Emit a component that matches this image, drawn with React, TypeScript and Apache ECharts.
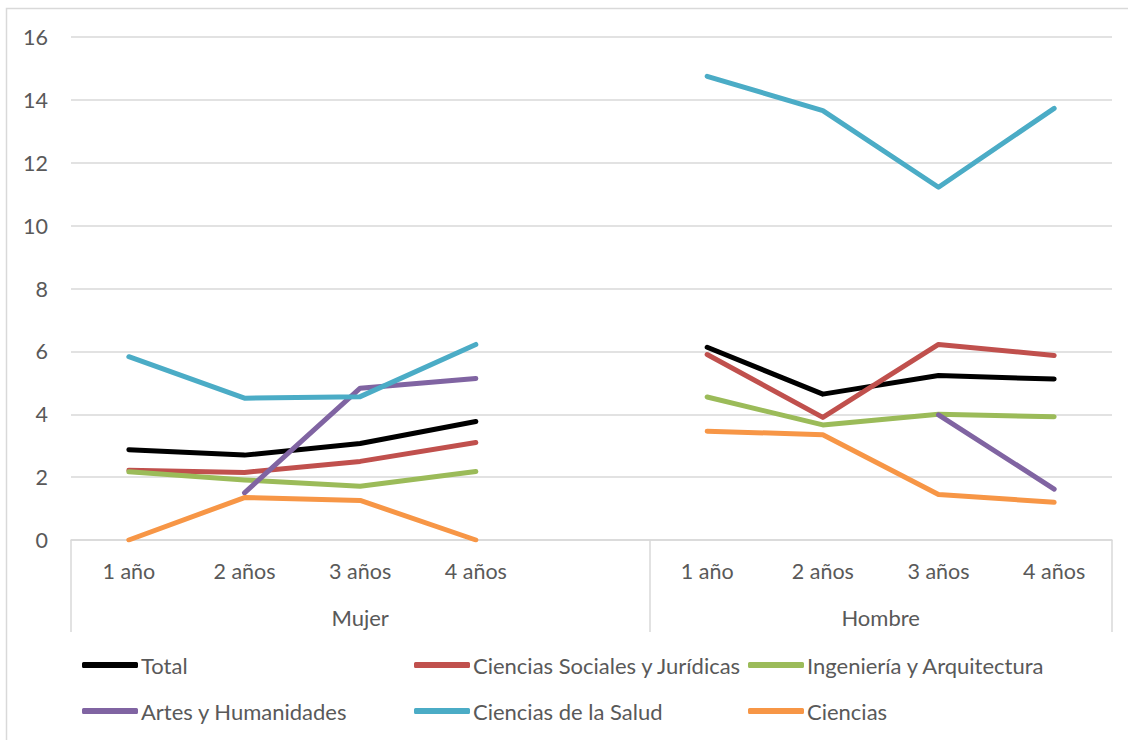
import React, { useEffect, useRef } from "react";
import * as echarts from "echarts";

const categories = ["1 año", "2 años", "3 años", "4 años", "", "1 año", "2 años", "3 años", "4 años"];
const groups = ["Mujer", "Hombre"];
const yTicks = [0, 2, 4, 6, 8, 10, 12, 14, 16];

const total = [2.87, 2.7, 3.07, 3.77, null, 6.13, 4.64, 5.23, 5.12];
const socialesJuridicas = [2.22, 2.15, 2.5, 3.1, null, 5.9, 3.9, 6.22, 5.87];
const ingenieriaArq = [2.17, 1.91, 1.71, 2.18, null, 4.55, 3.66, 4.0, 3.92];
const artesHumanidades = [null, 1.5, 4.83, 5.14, null, null, null, 3.98, 1.62];
const cienciasSalud = [5.83, 4.51, 4.56, 6.22, null, 14.75, 13.66, 11.22, 13.73];
const ciencias = [0, 1.35, 1.26, 0, null, 3.46, 3.35, 1.45, 1.2];

const FONT = "Lato, 'Open Sans', sans-serif";
const TXT = "#595959";
const GRID = "#d9d9d9";

export default function App() {
  const ref = useRef<HTMLDivElement>(null);
  useEffect(() => {
    if (!ref.current) return;
    const chart = echarts.init(ref.current, undefined, { renderer: "svg" });
    const mk = (name: string, data: (number | null)[], color: string) => ({
      name,
      type: "line",
      data,
      xAxisIndex: 0,
      yAxisIndex: 0,
      showSymbol: false,
      symbol: "none",
      connectNulls: false,
      lineStyle: { color, width: 5, cap: "round", join: "round" },
      itemStyle: { color },
    });
    const leg = (name: string, left: number, top: number) => ({
      orient: "horizontal",
      left,
      top,
      padding: 0,
      itemWidth: 56,
      itemHeight: 6,
      icon: "roundRect",
      data: [name],
      textStyle: { fontFamily: FONT, fontSize: 22, color: TXT, padding: [0, 0, 0, -2] },
    });
    const r1 = 654;
    const r2 = 700;
    chart.setOption({
      animation: false,
      backgroundColor: "#ffffff",
      grid: { left: 71, right: 16, top: 37, bottom: 200, containLabel: false },
      legend: [
        leg("Total", 82, r1),
        leg("Ciencias Sociales y Jurídicas", 414, r1),
        leg("Ingeniería y Arquitectura", 748, r1),
        leg("Artes y Humanidades", 82, r2),
        leg("Ciencias de la Salud", 414, r2),
        leg("Ciencias", 748, r2),
      ],
      xAxis: [
        {
          type: "category",
          data: categories,
          boundaryGap: true,
          axisLine: { show: true, lineStyle: { color: GRID, width: 1.5 } },
          axisTick: { show: false },
          axisLabel: { interval: 0, color: TXT, fontFamily: FONT, fontSize: 21.5, margin: 20 },
          splitLine: { show: false },
        },
        {
          type: "value",
          min: 0,
          max: 9,
          position: "bottom",
          axisLine: { show: false },
          axisTick: { show: true, customValues: [0, 5, 9], length: 92, lineStyle: { color: GRID, width: 1.5 } },
          axisLabel: {
            show: true,
            customValues: [2.5, 7],
            color: TXT,
            fontFamily: FONT,
            fontSize: 22,
            margin: 66,
            formatter: (v: number) => (v === 2.5 ? groups[0] : v === 7 ? groups[1] : ""),
          },
          splitLine: { show: false },
        },
      ],
      yAxis: {
        type: "value",
        min: yTicks[0],
        max: yTicks[yTicks.length - 1],
        interval: 2,
        axisLine: { show: false },
        axisTick: { show: false },
        axisLabel: { color: TXT, fontFamily: FONT, fontSize: 21.5, margin: 23 },
        splitLine: { lineStyle: { color: GRID, width: 1.5 } },
      },
      graphic: [
        {
          type: "rect",
          shape: { x: 6.5, y: 8.5, width: 1140, height: 760 },
          style: { fill: "none", stroke: GRID, lineWidth: 1.5 },
          silent: true,
        },
      ],
      series: [
        mk("Total", total, "#000000"),
        mk("Ciencias Sociales y Jurídicas", socialesJuridicas, "#C0504D"),
        mk("Ingeniería y Arquitectura", ingenieriaArq, "#9BBB59"),
        mk("Artes y Humanidades", artesHumanidades, "#8064A2"),
        mk("Ciencias de la Salud", cienciasSalud, "#4BACC6"),
        mk("Ciencias", ciencias, "#F79646"),
      ],
    });
    return () => chart.dispose();
  }, []);
  return (
    <div
      ref={ref}
      style={{ position: "fixed", left: 0, top: 0, width: 1128, height: 740, background: "#fff" }}
    />
  );
}
